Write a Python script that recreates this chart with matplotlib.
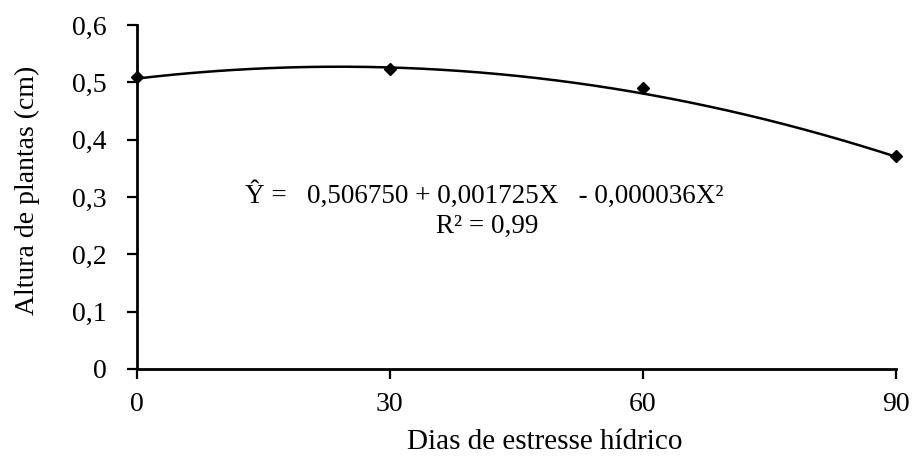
import numpy as np
import matplotlib
matplotlib.use("Agg")
import matplotlib.pyplot as plt

plt.rcParams['font.family'] = ['Liberation Serif', 'DejaVu Serif']

days = [0, 30, 60, 90]
height = [0.51, 0.524, 0.490, 0.372]
coef = [0.506750, 0.001725, -0.000036]   # b0, b1, b2 of the fitted quadratic
x_ticks = [0, 30, 60, 90]
y_ticks = [0, 0.1, 0.2, 0.3, 0.4, 0.5, 0.6]
y_ticklabels = ['0', '0,1', '0,2', '0,3', '0,4', '0,5', '0,6']

fig = plt.figure(figsize=(9.13, 4.57), dpi=100)
ax = fig.add_axes([0.150, 0.193, 0.831, 0.752])

xs = np.linspace(min(days), max(days), 200)
ys = coef[0] + coef[1] * xs + coef[2] * xs ** 2
ax.plot(xs, ys, color='black', lw=1.8, zorder=2)
ax.plot(days, height, linestyle='none', marker='D', ms=6, color='black', zorder=3, clip_on=False)

ax.set_xlim(0, 90)
ax.set_ylim(0, 0.6)
ax.set_xticks(x_ticks)
ax.set_xticklabels([str(v) for v in x_ticks], fontsize=20)
ax.set_yticks(y_ticks)
ax.set_yticklabels(y_ticklabels, fontsize=20)
ax.tick_params(axis='both', direction='out', length=7, width=1.6, color='black')
ax.tick_params(axis='x', pad=10)
ax.tick_params(axis='y', pad=15)
for s in ['top', 'right']:
    ax.spines[s].set_visible(False)
for s in ['left', 'bottom']:
    ax.spines[s].set_linewidth(2)

ax.set_xlabel('Dias de estresse hídrico', fontsize=21)
ax.xaxis.set_label_coords(0.538, -0.175)
ax.set_ylabel('Altura de plantas (cm)', fontsize=20, va='center')
ax.yaxis.set_label_coords(-0.144, 0.52)

ax.text(0.458, 0.483, 'Ŷ =   0,506750 + 0,001725X   - 0,000036X²', transform=ax.transAxes,
        ha='center', va='baseline', fontsize=19.5)
ax.text(0.461, 0.395, 'R² = 0,99', transform=ax.transAxes, ha='center', va='baseline', fontsize=19.5)

fig.savefig('out.png', dpi=100)
